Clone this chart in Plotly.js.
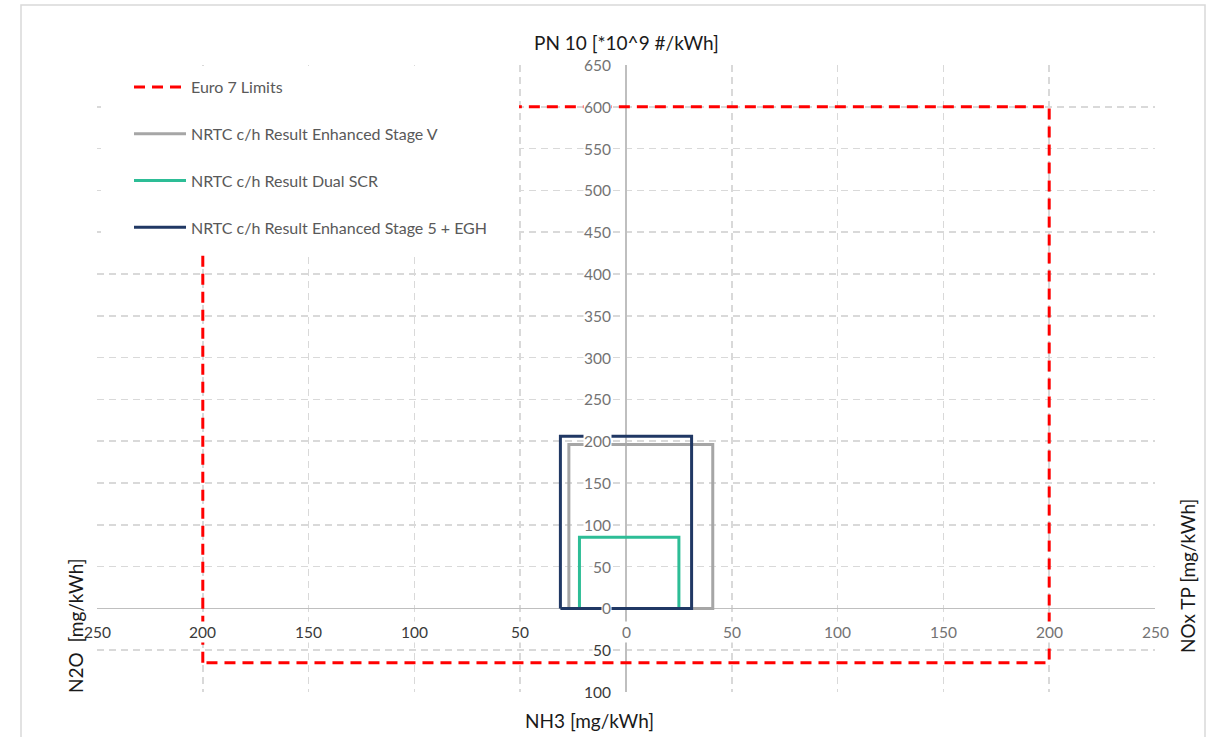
<!DOCTYPE html>
<html>
<head>
<meta charset="utf-8">
<script src="https://cdn.plot.ly/plotly-3.0.1.min.js"></script>
<style>
  html, body { margin: 0; padding: 0; background: #ffffff; }
  #chart { width: 1213px; height: 737px; }
</style>
</head>
<body>
<div id="chart"></div>
<script>
// Four-arm emissions chart: N2O to the left, PN10 up, NOx TP to the right, NH3 down.
const seriesNames = [
  'Euro 7 Limits',
  'NRTC c/h Result Enhanced Stage V',
  'NRTC c/h Result Dual SCR',
  'NRTC c/h Result Enhanced Stage 5 + EGH'
];
const n2o   = [200, 27, 22, 31];   // mg/kWh (left arm)
const pn10  = [600, 196, 85, 206]; // *10^9 #/kWh (upper arm)
const noxTP = [200, 41, 25, 31];   // mg/kWh (right arm)
const nh3   = [65, 0, 0, 0];       // mg/kWh (lower arm)

const xTickVals = [-250, -200, -150, -100, -50, 0, 50, 100, 150, 200, 250];
const yTickVals = [650, 600, 550, 500, 450, 400, 350, 300, 250, 200, 150, 100, 50, 0, -50, -100];

const lineColors = ['#ff0000', '#a6a6a6', '#2dbd96', '#203864'];
const lineDash   = ['11px,7px', 'solid', 'solid', 'solid'];

// plot-area geometry in pixels (used for placing text and decorations)
const W = 1213, H = 737;
const M = { l: 97, r: 58, t: 65, b: 45 };
const PW = W - M.l - M.r, PH = H - M.t - M.b;
const px = v => (v - M.l) / PW;
const py = v => 1 - (v - M.t) / PH;

// each series is a closed outline: N2O/NH3 corner -> N2O/PN -> NOx/PN -> NOx/NH3 -> back
const traces = seriesNames.map((name, i) => ({
  type: 'scatter',
  mode: 'lines',
  name: name,
  legendgroup: 'g' + i,
  x: [-n2o[i], -n2o[i], noxTP[i], noxTP[i], -n2o[i]],
  y: [-nh3[i], pn10[i], pn10[i], -nh3[i], -nh3[i]],
  line: { color: lineColors[i], width: 3, dash: lineDash[i] },
  hoverinfo: 'skip'
}));

const tickFont = 'Lato, "Open Sans", sans-serif';
const darkLabel = '#3a3a3a', greyLabel = '#737373';

const annotations = [];
// horizontal axis labels (absolute values, both directions)
xTickVals.forEach(v => {
  annotations.push({
    x: v, y: 0, xref: 'x', yref: 'y',
    text: String(Math.abs(v)), showarrow: false,
    xanchor: 'center', yanchor: 'middle', yshift: -24,
    font: { family: tickFont, size: 15.5, color: v < 0 ? darkLabel : greyLabel },
    bgcolor: '#ffffff', borderpad: 1
  });
});
// vertical axis labels (absolute values, both directions)
yTickVals.forEach(v => {
  annotations.push({
    x: 0, y: v, xref: 'x', yref: 'y',
    text: String(Math.abs(v)), showarrow: false,
    xanchor: 'right', yanchor: 'middle', xshift: -14,
    font: { family: tickFont, size: 15.5, color: v < 0 ? darkLabel : greyLabel },
    bgcolor: '#ffffff', borderpad: 0
  });
});
// arm titles
const titleFont = { family: tickFont, size: 19, color: '#1a1a1a' };
annotations.push(
  { xref: 'paper', yref: 'paper', x: px(626), y: py(42), text: 'PN 10 [*10^9 #/kWh]',
    showarrow: false, xanchor: 'center', yanchor: 'middle', font: titleFont },
  { xref: 'paper', yref: 'paper', x: px(589), y: py(720), text: 'NH3 [mg/kWh]',
    showarrow: false, xanchor: 'center', yanchor: 'middle', font: titleFont },
  { xref: 'paper', yref: 'paper', x: px(75), y: py(626), text: 'N2O  [mg/kWh]', textangle: -90,
    showarrow: false, xanchor: 'center', yanchor: 'middle', font: titleFont },
  { xref: 'paper', yref: 'paper', x: px(1187), y: py(576), text: 'NOx TP [mg/kWh]', textangle: -90,
    showarrow: false, xanchor: 'center', yanchor: 'middle', font: titleFont }
);

const shapes = [
  // white panel behind the legend, hiding grid and lines underneath
  { type: 'rect', xref: 'paper', yref: 'paper', layer: 'above',
    x0: px(101), x1: px(519), y0: py(252), y1: py(66),
    fillcolor: '#ffffff', line: { width: 0 } },
  // chart frame
  { type: 'rect', xref: 'paper', yref: 'paper', layer: 'above',
    x0: px(21), x1: px(1205), y0: py(745), y1: py(5),
    fillcolor: 'rgba(0,0,0,0)', line: { color: '#d9d9d9', width: 1.5 } }
];

const layout = {
  width: W, height: H,
  margin: M,
  paper_bgcolor: '#ffffff', plot_bgcolor: '#ffffff',
  showlegend: true,
  legend: {
    x: px(129), y: py(70), xanchor: 'left', yanchor: 'top',
    bgcolor: 'rgba(0,0,0,0)', borderwidth: 0,
    traceorder: 'grouped', tracegroupgap: 23, itemwidth: 52,
    font: { family: tickFont, size: 16, color: '#595959' }
  },
  xaxis: {
    range: [-250, 250], tickvals: xTickVals, showticklabels: false,
    showgrid: true, gridcolor: '#d9d9d9', gridwidth: 1.5, griddash: '7px,5px',
    zeroline: true, zerolinecolor: '#bfbfbf', zerolinewidth: 1.5,
    showline: false, fixedrange: true
  },
  yaxis: {
    range: [-100, 650], tickvals: yTickVals, showticklabels: false,
    showgrid: true, gridcolor: '#d9d9d9', gridwidth: 1.5, griddash: '7px,5px',
    zeroline: true, zerolinecolor: '#bfbfbf', zerolinewidth: 1.5,
    showline: false, fixedrange: true
  },
  annotations: annotations,
  shapes: shapes
};

Plotly.newPlot('chart', traces, layout, { staticPlot: true, displayModeBar: false });
</script>
</body>
</html>
